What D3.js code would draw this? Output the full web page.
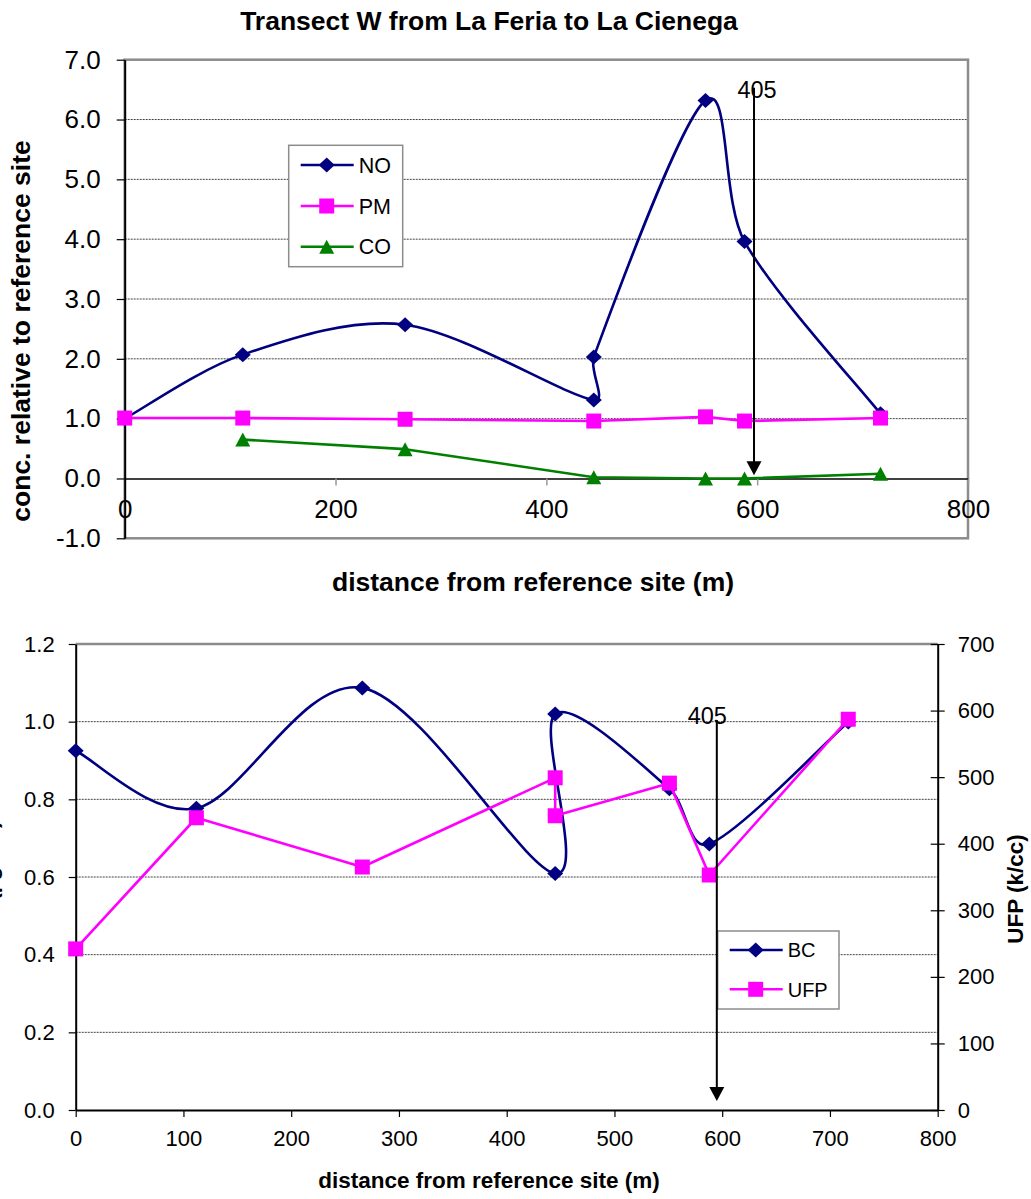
<!DOCTYPE html>
<html>
<head>
<meta charset="utf-8">
<script src="https://cdn.jsdelivr.net/npm/d3@7"></script>
<style>
  body { margin: 0; background: #fff; }
  svg { display: block; font-family: "Liberation Sans", Arial, sans-serif; }
</style>
</head>
<body>
<svg id="chart" width="1031" height="1199"></svg>
<script>
// ── data ─────────────────────────────────────────────────────
const TITLE = 'Transect W from La Feria to La Cienega';

// top panel: concentrations relative to the reference site
const noDist = [0, 112, 266, 445, 445, 551, 588, 717];
const noVals = [1.00, 2.07, 2.57, 1.31, 2.03, 6.32, 3.96, 1.08];
const pmDist = [0, 112, 266, 445, 551, 588, 717];
const pmVals = [1.01, 1.01, 0.99, 0.96, 1.03, 0.96, 1.01];
const coDist = [112, 266, 445, 551, 588, 717];
const coVals = [0.65, 0.49, 0.02, 0.0, 0.0, 0.08];
const topXTicks = [0, 200, 400, 600, 800];
const topYTicks = [-1, 0, 1, 2, 3, 4, 5, 6, 7];

// bottom panel: BC (left axis) and UFP in k/cc (right axis)
const btmDist = [0, 112, 266, 445, 445, 551, 588, 717];
const bcVals = [0.925, 0.777, 1.087, 0.609, 1.020, 0.827, 0.685, 0.999];
const ufpVals = [242, 439, 365, 499, 442, 491, 353, 587];
const btmXTicks = [0, 100, 200, 300, 400, 500, 600, 700, 800];
const bcTicks = [0, 0.2, 0.4, 0.6, 0.8, 1.0, 1.2];
const ufpTicks = [0, 100, 200, 300, 400, 500, 600, 700];

// the "405" freeway crossing marker (distance, arrow top value, arrow tip value)
const freewayLabel = '405';
const freewayTop = { x: 597, from: 6.53, to: 0.055 };
const freewayBtm = { x: 595, from: 1.004, to: 0.023 };

// ── colours / shapes ─────────────────────────────────────────
const NAVY = '#000080', MAGENTA = '#ff00ff', GREEN = '#008000', FRAME = '#8c8c8c';
const SHAPE = {
  diamond: 'M0,-7.5L8,0L0,7.5L-8,0Z',
  square: 'M-7.5,-7.5H7.5V7.5H-7.5Z',
  triangle: 'M0,-7L7.5,7H-7.5Z',
};
const FONT_BTM = 22;

const svg = d3.select('#chart');
svg.append('rect').attr('width', 1031).attr('height', 1199).attr('fill', '#fff');

// spreadsheet-style smoothing: 1/6 cardinal handles, each clamped to a third
// of its own segment so a short hop (the two 445 m readings) doesn't hook
function smoothPath(pts) {
  const p = d3.path();
  const n = pts.length;
  const handle = (a, b, seg) => {
    let dx = (b[0] - a[0]) / 6, dy = (b[1] - a[1]) / 6;
    const len = Math.hypot(dx, dy), cap = seg / 3;
    if (len > cap && len > 0) { dx *= cap / len; dy *= cap / len; }
    return [dx, dy];
  };
  p.moveTo(pts[0][0], pts[0][1]);
  for (let i = 0; i < n - 1; i++) {
    const p0 = pts[Math.max(0, i - 1)], p1 = pts[i], p2 = pts[i + 1], p3 = pts[Math.min(n - 1, i + 2)];
    const seg = Math.hypot(p2[0] - p1[0], p2[1] - p1[1]);
    const h1 = handle(p0, p2, seg), h2 = handle(p1, p3, seg);
    p.bezierCurveTo(p1[0] + h1[0], p1[1] + h1[1], p2[0] - h2[0], p2[1] - h2[1], p2[0], p2[1]);
  }
  return p.toString();
}

function series(g, xs, ys, x, y, color, shape, smooth) {
  const pts = xs.map((d, i) => [x(d), y(ys[i])]);
  g.append('path').attr('d', smooth ? smoothPath(pts) : d3.line()(pts)).attr('fill', 'none')
    .attr('stroke', color).attr('stroke-width', 2.6).attr('stroke-linejoin', 'round');
  g.selectAll(null).data(pts).enter().append('path')
    .attr('transform', (p) => `translate(${p[0]},${p[1]})`)
    .attr('d', SHAPE[shape]).attr('fill', color);
}

function legend(g, x0, y0, w, h, rows, fs) {
  g.append('rect').attr('x', x0).attr('y', y0).attr('width', w).attr('height', h)
    .attr('fill', '#fff').attr('stroke', FRAME).attr('stroke-width', 1.5);
  rows.forEach((r) => {
    g.append('line').attr('x1', x0 + 12).attr('x2', x0 + 65).attr('y1', r.y).attr('y2', r.y)
      .attr('stroke', r.color).attr('stroke-width', 2.6);
    g.append('path').attr('transform', `translate(${x0 + 38},${r.y})`)
      .attr('d', SHAPE[r.shape]).attr('fill', r.color);
    g.append('text').attr('x', x0 + 70).attr('y', r.y).attr('dy', '0.36em')
      .attr('font-size', fs).text(r.name);
  });
}

function arrow(g, xPos, yTop, yTip, labelX, labelY, fs) {
  g.append('line').attr('x1', xPos).attr('x2', xPos).attr('y1', yTop).attr('y2', yTip - 10)
    .attr('stroke', '#000').attr('stroke-width', 2);
  g.append('path').attr('d', `M${xPos - 7.5},${yTip - 14}H${xPos + 7.5}L${xPos},${yTip}Z`).attr('fill', '#000');
  g.append('text').attr('x', labelX).attr('y', labelY).attr('text-anchor', 'middle')
    .attr('font-size', fs).text(freewayLabel);
}

function styleAxis(sel, fs) {
  sel.selectAll('text').attr('font-size', fs).attr('fill', '#000').attr('font-family', null);
  sel.attr('font-family', null);
}

// ── top panel ────────────────────────────────────────────────
{
  const g = svg.append('g');
  const x = d3.scaleLinear([0, 800], [124.7, 968]);
  const y = d3.scaleLinear([-1, 7], [538.3, 59.7]);

  g.append('g').selectAll('line').data(topYTicks.filter((d) => d > 0 && d < 7)).enter().append('line')
    .attr('x1', x(0)).attr('x2', x(800)).attr('y1', (d) => y(d)).attr('y2', (d) => y(d))
    .attr('stroke', '#444').attr('stroke-width', 1).attr('stroke-dasharray', '2,1');

  g.append('rect').attr('x', x(0)).attr('y', y(7)).attr('width', x(800) - x(0)).attr('height', y(-1) - y(7))
    .attr('fill', 'none').attr('stroke', FRAME).attr('stroke-width', 2.5);

  const xa = g.append('g').attr('transform', `translate(0,${y(0)})`)
    .call(d3.axisBottom(x).tickValues(topXTicks).tickFormat(d3.format('d')).tickSize(7).tickSizeOuter(0).tickPadding(14));
  xa.select('.domain').attr('stroke', '#000').attr('stroke-width', 1.5);
  xa.selectAll('.tick line').attr('stroke', '#999').attr('stroke-width', 1.5);
  styleAxis(xa, 26);

  const ya = g.append('g').attr('transform', `translate(${x(0)},0)`)
    .call(d3.axisLeft(y).tickValues(topYTicks).tickFormat((d) => d.toFixed(1)).tickSize(8).tickSizeOuter(0).tickPadding(16));
  ya.select('.domain').attr('stroke', '#000').attr('stroke-width', 2);
  ya.selectAll('.tick line').attr('stroke', '#000').attr('stroke-width', 1.2);
  styleAxis(ya, 26);

  series(g, noDist, noVals, x, y, NAVY, 'diamond', true);
  series(g, pmDist, pmVals, x, y, MAGENTA, 'square', false);
  series(g, coDist, coVals, x, y, GREEN, 'triangle', false);

  arrow(g, x(freewayTop.x), y(freewayTop.from), y(freewayTop.to), x(freewayTop.x) + 3, 98, 23.5);

  legend(g, 288.7, 145.3, 114, 121.4, [
    { name: 'NO', color: NAVY, shape: 'diamond', y: 165 },
    { name: 'PM', color: MAGENTA, shape: 'square', y: 206 },
    { name: 'CO', color: GREEN, shape: 'triangle', y: 246.7 },
  ], 21.5);

  svg.append('text').attr('x', 489).attr('y', 30).attr('text-anchor', 'middle')
    .attr('font-size', 26.5).attr('font-weight', 'bold').text(TITLE);
  svg.append('text').attr('transform', 'translate(30,331) rotate(-90)').attr('text-anchor', 'middle')
    .attr('font-size', 26.5).attr('font-weight', 'bold').text('conc. relative to reference site');
  svg.append('text').attr('x', 533).attr('y', 591).attr('text-anchor', 'middle')
    .attr('font-size', 26.5).attr('font-weight', 'bold').text('distance from reference site (m)');
}

// ── bottom panel ─────────────────────────────────────────────
{
  const g = svg.append('g');
  const x = d3.scaleLinear([0, 800], [75.7, 937.7]);
  const y = d3.scaleLinear([0, 1.2], [1110, 644]);
  const yr = d3.scaleLinear([0, 700], [1110, 644]);

  g.append('g').selectAll('line').data(bcTicks.filter((d) => d > 0 && d < 1.2)).enter().append('line')
    .attr('x1', x(0)).attr('x2', x(800)).attr('y1', (d) => y(d)).attr('y2', (d) => y(d))
    .attr('stroke', '#444').attr('stroke-width', 1).attr('stroke-dasharray', '2,1');

  g.append('line').attr('x1', x(0)).attr('x2', x(800)).attr('y1', y(1.2)).attr('y2', y(1.2))
    .attr('stroke', FRAME).attr('stroke-width', 2.5);

  const xa = g.append('g').attr('transform', `translate(0,${y(0)})`)
    .call(d3.axisBottom(x).tickValues(btmXTicks).tickFormat(d3.format('d')).tickSize(7).tickSizeOuter(0).tickPadding(13));
  xa.select('.domain').attr('stroke', '#000').attr('stroke-width', 2);
  xa.selectAll('.tick line').attr('stroke', '#000').attr('stroke-width', 1.2);
  styleAxis(xa, FONT_BTM);

  const ya = g.append('g').attr('transform', `translate(${x(0)},0)`)
    .call(d3.axisLeft(y).tickValues(bcTicks).tickFormat((d) => d.toFixed(1)).tickSize(7).tickSizeOuter(0).tickPadding(14));
  ya.select('.domain').attr('stroke', '#000').attr('stroke-width', 2);
  ya.selectAll('.tick line').attr('stroke', '#000').attr('stroke-width', 1.2);
  styleAxis(ya, FONT_BTM);

  const ra = g.append('g').attr('transform', `translate(${x(800)},0)`)
    .call(d3.axisRight(yr).tickValues(ufpTicks).tickSize(7).tickSizeOuter(0).tickPadding(13));
  ra.select('.domain').attr('stroke', '#000').attr('stroke-width', 2);
  ra.selectAll('.tick line').attr('x1', -7).attr('stroke', '#000').attr('stroke-width', 1.2);
  styleAxis(ra, FONT_BTM);

  series(g, btmDist, bcVals, x, y, NAVY, 'diamond', true);
  series(g, btmDist, ufpVals, x, yr, MAGENTA, 'square', false);

  legend(g, 717.7, 931, 121.3, 78, [
    { name: 'BC', color: NAVY, shape: 'diamond', y: 950 },
    { name: 'UFP', color: MAGENTA, shape: 'square', y: 989.3 },
  ], 20);

  arrow(g, x(freewayBtm.x), y(freewayBtm.from), y(freewayBtm.to), x(freewayBtm.x) - 9.5, 724, 23.5);

  svg.append('text').attr('x', 489).attr('y', 1188).attr('text-anchor', 'middle')
    .attr('font-size', 22.5).attr('font-weight', 'bold').text('distance from reference site (m)');
  svg.append('text').attr('transform', 'translate(1023,889) rotate(-90)').attr('text-anchor', 'middle')
    .attr('font-size', 22.5).attr('font-weight', 'bold').text('UFP (k/cc)');
  // left title sits almost entirely off the canvas in the original
  svg.append('text').attr('transform', 'translate(-3,880) rotate(-90)').attr('text-anchor', 'middle')
    .attr('font-size', 22.5).attr('font-weight', 'bold').text('BC (µg/m3)');
}
</script>
</body>
</html>
